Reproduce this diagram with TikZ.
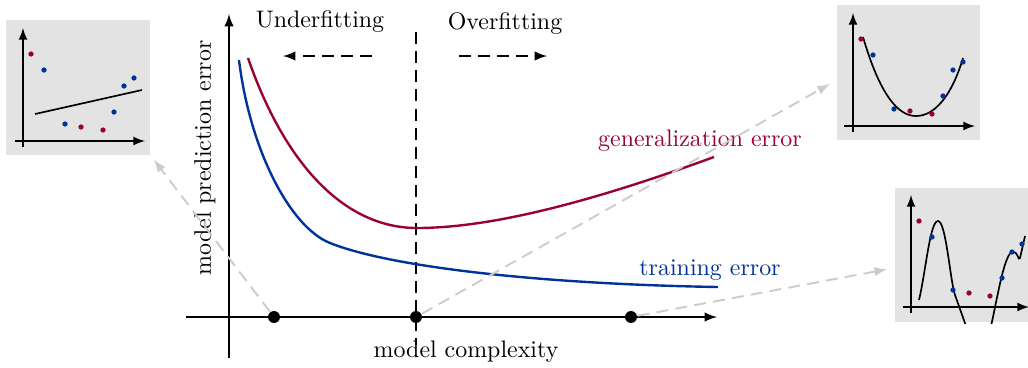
\documentclass[tikz,border=0pt]{standalone}
\usepackage{amsmath}
\usepackage{tikz}
\usetikzlibrary{arrows,shapes,positioning,calc}
\definecolor{gencol}{RGB}{153,0,51}
\definecolor{traincol}{RGB}{0,51,153}

\begin{document}
\begin{tikzpicture}[
x=0.0147cm, y=-0.0147cm, >=latex, thick,
dot-node/.style = {circle,fill=black,inner sep=0pt,minimum size=5pt},
red-pt/.style = {circle,fill=gencol,inner sep=0pt,minimum size=2.2pt},
blue-pt/.style = {circle,fill=traincol,inner sep=0pt,minimum size=2.2pt},
inset-box/.style = {rectangle,fill=black!11,inner sep=0pt},
link/.style = {->,black!20,dash pattern=on 5pt off 3pt},
side-arrow/.style = {->,dash pattern=on 5pt off 3pt},
inset-axis/.style = {->,line width=0.7pt},
err-curve/.style = {line width=1pt}
]
\useasboundingbox (0,0) rectangle (1028,367);

% axes
\coordinate (y-bot) at (229,358);
\coordinate (y-top) at (229,14);
\coordinate (x-left) at (186,317);
\coordinate (x-right) at (717,317);
\draw[->] (y-bot) -- (y-top);
\draw[->] (x-left) -- (x-right);

% split
\coordinate (split-top) at (416,32);
\coordinate (split-bot) at (416,345);
\draw[dash pattern=on 5pt off 3pt] (split-top) -- (split-bot);

% curves
\draw[err-curve,gencol] (248,58) .. controls (285,165) and (345,228) .. (417,228)
  .. controls (500,228) and (610,195) .. (714,157);
\draw[err-curve,traincol] (239,60) .. controls (250,150) and (290,227) .. (330,243)
  .. controls (390,267) and (540,284) .. (718,287);

% labels
\node (under) at (320,22) {Underfitting};
\node (over) at (505,24) {Overfitting};
\node[rotate=90] (ylab) at (205,158) {model prediction error};
\node (xlab) at (466,352) {model complexity};
\node[text=gencol] (genlab) at (700,141) {generalization error};
\node[text=traincol] (trainlab) at (710,270) {training error};

\coordinate (uf-start) at (372,56);
\coordinate (uf-end) at (283,56);
\coordinate (of-start) at (459,56);
\coordinate (of-end) at (547,56);
\draw[side-arrow] (uf-start) -- (uf-end);
\draw[side-arrow] (of-start) -- (of-end);

% insets
\node[inset-box,minimum width=2.117cm,minimum height=1.985cm] (under-box) at (78,87.5) {};
\node[inset-box,minimum width=2.102cm,minimum height=1.985cm] (good-box) at (908.5,72.5) {};
\node[inset-box,minimum width=2.102cm,minimum height=1.97cm] (over-box) at (966.5,255) {};

% underfit inset
\draw[inset-axis] (23,147) -- (23,28);
\draw[inset-axis] (15,141) -- (145,141);
\draw[line width=0.7pt] (35,114) -- (142,90);
\node[red-pt] (u1) at (31,54) {};
\node[blue-pt] (u2) at (44,70) {};
\node[blue-pt] (u3) at (65,124) {};
\node[red-pt] (u4) at (81,127) {};
\node[red-pt] (u5) at (103,130) {};
\node[blue-pt] (u6) at (114,112) {};
\node[blue-pt] (u7) at (124,86) {};
\node[blue-pt] (u8) at (134,78) {};

% good fit inset
\draw[inset-axis] (853,132) -- (853,13);
\draw[inset-axis] (844,126) -- (975,126);
\draw[line width=0.7pt] (863,37) .. controls (880,95) and (898,116) .. (916,116)
  .. controls (935,116) and (952,95) .. (963,58);
\node[red-pt] (g1) at (861,39) {};
\node[blue-pt] (g2) at (873,55) {};
\node[blue-pt] (g3) at (894,109) {};
\node[red-pt] (g4) at (910,111) {};
\node[red-pt] (g5) at (932,114) {};
\node[blue-pt] (g6) at (943,96) {};
\node[blue-pt] (g7) at (953,70) {};
\node[blue-pt] (g8) at (963,62) {};

% overfit inset
\draw[inset-axis] (911,313) -- (911,195);
\draw[inset-axis] (903,307) -- (1029,307);
\begin{scope}
\clip (over-box.south west) rectangle (over-box.north east);
\draw[line width=0.7pt] (919,300) .. controls (926,270) and (930,221) .. (938,221)
  .. controls (946,221) and (950,280) .. (955,295) -- (966,326);
\draw[line width=0.7pt] (991,326) .. controls (997,300) and (1004,255) .. (1012,252)
  .. controls (1018,250) and (1018,262) .. (1020,258) -- (1025,236);
\end{scope}
\node[red-pt] (o1) at (919,221) {};
\node[blue-pt] (o2) at (932,237) {};
\node[blue-pt] (o3) at (953,290) {};
\node[red-pt] (o4) at (969,293) {};
\node[red-pt] (o5) at (990,296) {};
\node[blue-pt] (o6) at (1002,278) {};
\node[blue-pt] (o7) at (1012,252) {};
\node[blue-pt] (o8) at (1022,244) {};

% complexity points
\node[dot-node] (under-pt) at (274,317) {};
\node[dot-node] (good-pt) at (416,317) {};
\node[dot-node] (over-pt) at (631,317) {};

% arrows
\draw[link,shorten >=2pt] (under-pt) -- (under-box.south east);
\draw[link,shorten >=3pt] (good-pt) -- ($(good-box.west)+(0,8)$);
\draw[link,shorten >=3pt] (over-pt) -- ($(over-box.west)+(0,13)$);

\end{tikzpicture}
\end{document}
